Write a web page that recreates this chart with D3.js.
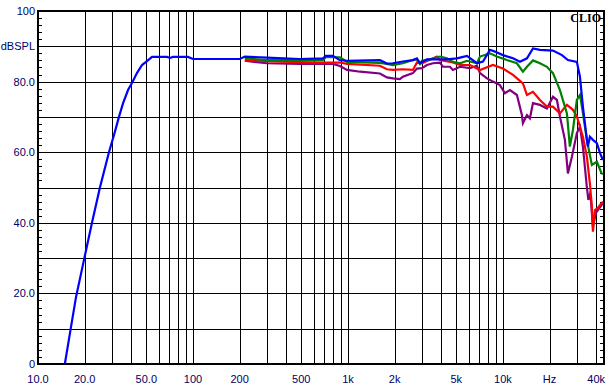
<!DOCTYPE html>
<html>
<head>
<meta charset="utf-8">
<script src="https://cdn.jsdelivr.net/npm/d3@7"></script>
<style>
  body { margin: 0; background: #fff; }
  svg { display: block; }
  .lbl { font-family: "Liberation Sans", Arial, sans-serif; font-size: 11px; fill: #000066; }
</style>
</head>
<body>
<svg id="chart" width="611" height="391"></svg>
<script>
// frequency (Hz) / level (dBSPL) pairs
const blueData = [
  [14.9, 0], [16.2, 9.6], [17.6, 19], [19.8, 29.5], [22.3, 40], [25.1, 50], [28.7, 60],
  [31, 65], [33.3, 70], [35.4, 73.9], [38.1, 77.6], [40.4, 79.6], [43.5, 82.4], [46.9, 84.7],
  [50.5, 85.8], [54.4, 87.0], [68, 87.0], [71.1, 86.7], [74.3, 87.0], [92.8, 87.0], [100, 86.4],
  [111, 86.4], [201, 86.4], [216, 87.1], [300, 86.8], [490, 86.4], [690, 86.6], [720, 87.3],
  [800, 87.3], [888, 86.1], [986, 85.9], [1608, 86.1], [1785, 85.1], [1950, 85.2], [2263, 85.7],
  [2626, 86.1], [2787, 86.6], [2916, 85.2], [3234, 86.3], [4355, 86.3], [5049, 86.6],
  [5862, 87.3], [6796, 85.2], [7435, 85.7], [8248, 89.0], [8878, 88.5], [10000, 87.5],
  [11610, 86.6], [12880, 85.6], [14290, 86.6], [15630, 89.4], [17330, 89.0], [21030, 88.8],
  [24040, 87.5], [26260, 86.1], [30000, 85.6], [31410, 81.4], [32820, 72.9], [34820, 63.5],
  [35320, 61.6], [36400, 64.4], [38080, 63.5], [40380, 62.6], [42270, 59.8], [44180, 57.8]
];

const greenData = [
  [216, 86.6], [300, 86.1], [490, 86.1], [690, 86.1], [720, 86.9], [888, 86.9], [986, 85.6],
  [1608, 85.3], [1785, 85.0], [1950, 84.7], [2263, 85.2], [2626, 86.1], [2787, 86.3],
  [2916, 85.0], [3000, 85.9], [3234, 86.1], [3925, 87.1], [4355, 86.6], [4757, 85.6],
  [5284, 85.2], [5862, 85.9], [6796, 85.2], [7112, 87.1], [8248, 88.0], [9143, 87.1],
  [10614, 86.1], [12310, 85.2], [13460, 82.8], [14290, 84.2], [15630, 86.0], [17330, 85.2],
  [19230, 84.2], [21030, 82.4], [23330, 77.6], [25880, 71.0], [27040, 61.6], [28300, 66.3],
  [30000, 74.8], [31410, 76.2], [32360, 72.9], [34820, 63.5], [37490, 56.4], [40380, 57.3],
  [43350, 54.0], [44180, 53.8]
];

const redData = [
  [216, 86.1], [300, 85.8], [490, 85.5], [690, 85.4], [888, 85.4], [986, 85.0], [1608, 84.5],
  [1785, 83.5], [1950, 83.3], [2263, 83.5], [2626, 83.3], [2787, 85.4], [3000, 85.2],
  [3752, 87.1], [3925, 86.1], [4757, 85.4], [5284, 84.7], [6129, 84.7], [7112, 83.3],
  [8620, 84.7], [10000, 83.7], [11610, 81.9], [13460, 79.5], [14290, 76.2], [15630, 77.1],
  [17330, 74.8], [19230, 72.9], [21030, 72.9], [23330, 71.0], [25880, 73.4], [28300, 72.0],
  [30000, 70.1], [32820, 64.4], [34820, 58.7], [36400, 51.2], [37490, 44.5], [38080, 37.5],
  [39250, 43.6], [41000, 44.2], [43350, 45.6], [44180, 46.0]
];

const purpleData = [
  [216, 85.9], [300, 85.2], [490, 85.0], [800, 85.0], [888, 84.4], [986, 83.3], [1200, 82.8],
  [1608, 82.3], [1785, 81.2], [1950, 80.9], [2163, 80.7], [2263, 81.4], [2626, 82.4],
  [2787, 83.7], [3000, 83.8], [3234, 84.7], [3535, 85.2], [3925, 85.4], [4104, 84.2],
  [4550, 84.2], [4757, 83.3], [5284, 84.2], [6129, 83.8], [6796, 84.5], [7112, 82.4],
  [7890, 80.9], [8620, 80.0], [9566, 79.0], [10304, 76.7], [11100, 77.6], [12310, 76.2],
  [13270, 70.5], [13460, 68.2], [14290, 70.5], [14930, 69.6], [15630, 73.9], [17330, 73.4],
  [19230, 72.4], [21030, 75.7], [22300, 74.8], [23330, 70.1], [25120, 63.5], [26260, 54.0],
  [27870, 58.7], [30000, 65.4], [31410, 67.2], [32820, 61.6], [34820, 50.0], [35600, 46.5],
  [36400, 47.9], [37000, 46.5], [37490, 42.8], [38080, 38.9], [39810, 42.8], [41000, 43.6],
  [43350, 45.0], [44180, 45.6]
];

const xTickLabels = [
  [10, "10.0"], [20, "20.0"], [50, "50.0"], [100, "100"], [200, "200"], [500, "500"],
  [1000, "1k"], [2000, "2k"], [5000, "5k"], [10000, "10k"], [20000, "Hz"], [40000, "40k"]
];
const yTickLabels = [
  [100, "100"], [90, "dBSPL"], [80, "80.0"], [60, "60.0"], [40, "40.0"], [20, "20.0"], [0, "0"]
];

const series = [
  { data: purpleData, color: "#800080" },
  { data: redData, color: "#ff0000" },
  { data: greenData, color: "#008000" },
  { data: blueData, color: "#0000ff" }
];

const svg = d3.select("#chart");

const x = d3.scaleLog().domain([10, 44900]).range([38, 604]);
const y = d3.scaleLinear().domain([0, 100]).range([364, 11]);

// vertical grid: every 1-2-3..9 within each decade
const xGrid = [];
[10, 100, 1000, 10000].forEach(dec => {
  for (let m = 1; m <= 9; m++) {
    const f = dec * m;
    if (f > 10 && f < 44900) xGrid.push(f);
  }
});

const grid = svg.append("g").attr("shape-rendering", "crispEdges");

grid.selectAll(".vg")
  .data(xGrid)
  .enter()
  .append("line")
  .attr("x1", d => Math.round(x(d)) + 0.5)
  .attr("x2", d => Math.round(x(d)) + 0.5)
  .attr("y1", y(100))
  .attr("y2", y(0))
  .attr("stroke", "#000")
  .attr("stroke-width", 1);

grid.selectAll(".hg")
  .data(d3.range(10, 100, 10))
  .enter()
  .append("line")
  .attr("x1", x(10))
  .attr("x2", x(44900))
  .attr("y1", d => Math.round(y(d)) + 0.5)
  .attr("y2", d => Math.round(y(d)) + 0.5)
  .attr("stroke", "#000")
  .attr("stroke-width", 1);

// small inward ticks every 2 dB on both sides
const minor = d3.range(2, 100, 2).filter(d => d % 10 !== 0);
grid.selectAll(".lt")
  .data(minor)
  .enter()
  .append("line")
  .attr("x1", x(10))
  .attr("x2", x(10) + 4)
  .attr("y1", d => Math.round(y(d)) + 0.5)
  .attr("y2", d => Math.round(y(d)) + 0.5)
  .attr("stroke", "#000");

grid.selectAll(".rt")
  .data(minor)
  .enter()
  .append("line")
  .attr("x1", x(44900) - 4)
  .attr("x2", x(44900))
  .attr("y1", d => Math.round(y(d)) + 0.5)
  .attr("y2", d => Math.round(y(d)) + 0.5)
  .attr("stroke", "#000");

// curves
const line = d3.line()
  .x(d => x(d[0]))
  .y(d => y(d[1]));

const clip = svg.append("clipPath").attr("id", "clip")
  .append("rect")
  .attr("x", x(10)).attr("y", y(100))
  .attr("width", x(44900) - x(10)).attr("height", y(0) - y(100) + 1);

svg.append("g")
  .attr("clip-path", "url(#clip)")
  .selectAll("path")
  .data(series)
  .enter()
  .append("path")
  .attr("d", d => line(d.data))
  .attr("fill", "none")
  .attr("stroke", d => d.color)
  .attr("stroke-width", 2.2)
  .attr("stroke-linejoin", "miter");

// frame
svg.append("rect")
  .attr("x", x(10))
  .attr("y", y(100))
  .attr("width", x(44900) - x(10))
  .attr("height", y(0) - y(100))
  .attr("fill", "none")
  .attr("stroke", "#000")
  .attr("stroke-width", 2.5)
  .attr("shape-rendering", "crispEdges");

// labels
svg.selectAll(".xl")
  .data(xTickLabels)
  .enter()
  .append("text")
  .attr("class", "lbl")
  .attr("x", d => x(d[0]))
  .attr("y", 383)
  .attr("text-anchor", "middle")
  .text(d => d[1]);

svg.selectAll(".yl")
  .data(yTickLabels)
  .enter()
  .append("text")
  .attr("class", "lbl")
  .attr("x", 35)
  .attr("y", d => y(d[0]) + 4)
  .attr("text-anchor", "end")
  .text(d => d[1]);

svg.append("text")
  .attr("x", 601)
  .attr("y", 21.5)
  .attr("text-anchor", "end")
  .style("font-family", "'Liberation Serif', 'Times New Roman', serif")
  .style("font-weight", "bold")
  .style("font-size", "12px")
  .text("CLIO");
</script>
</body>
</html>
